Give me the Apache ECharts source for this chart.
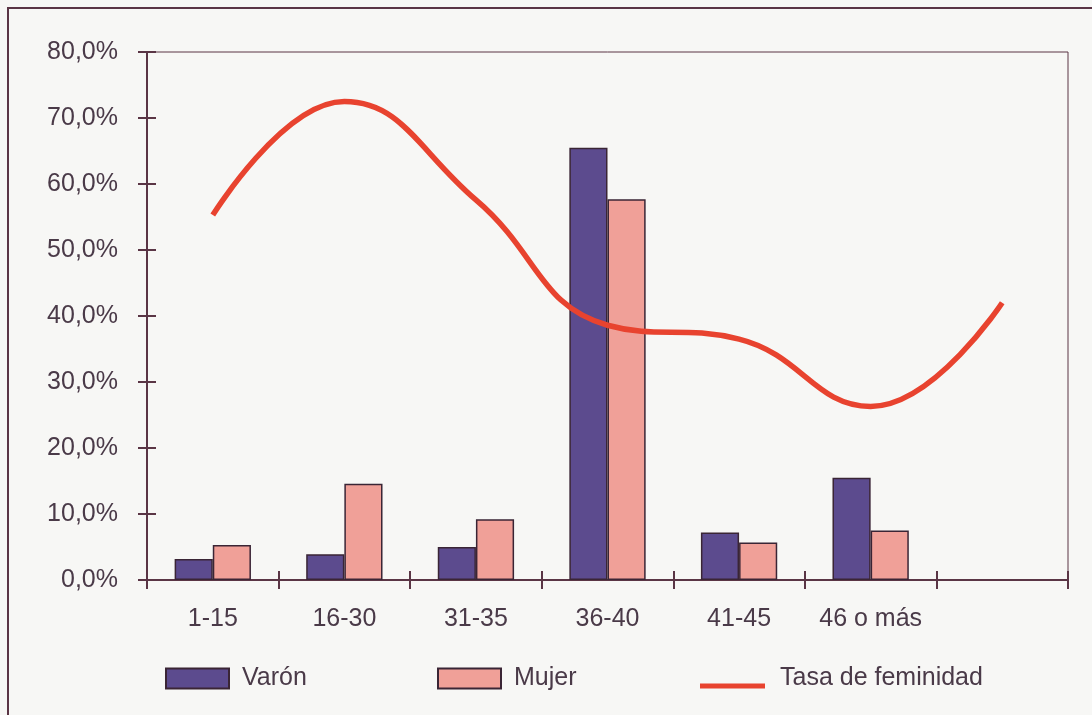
<!DOCTYPE html>
<html>
<head>
<meta charset="utf-8">
<script src="https://cdn.jsdelivr.net/npm/echarts@6/dist/echarts.min.js"></script>
<style>
html,body{margin:0;padding:0;background:#f7f7f5;}
#c{width:1092px;height:715px;}
</style>
</head>
<body>
<div id="c"></div>
<script>
const categories = ['1-15', '16-30', '31-35', '36-40', '41-45', '46 o más', ''];
const varon = [3.2, 3.9, 5.0, 65.5, 7.2, 15.5, null];
const mujer = [5.3, 14.6, 9.2, 57.7, 5.7, 7.5, null];
const tasaFeminidad = [55.3, 72.5, 57.6, 38.6, 36.5, 26.3, 42.0];
const yTicks = [0, 10, 20, 30, 40, 50, 60, 70, 80];

const axisColor = '#5a3545';
const textColor = '#4a3a48';
const font = 'Liberation Sans, Arial, sans-serif';
const fs = 25;

const chart = echarts.init(document.getElementById('c'), null, {renderer: 'canvas'});
const legendText = () => ({color: textColor, fontSize: fs, fontFamily: font, padding: [0, 0, 0, 8]});
const axLine = () => ({show: true, onZero: false, lineStyle: {color: axisColor, width: 2}});
const tick = (inside) => ({show: true, inside: inside, alignWithLabel: false, length: 9, lineStyle: {color: axisColor, width: 2}});
const gridBox = () => ({left: 147, top: 52, right: 24, bottom: 135});

chart.setOption({
  backgroundColor: '#f7f7f5',
  animation: false,
  grid: [
    Object.assign({show: true, borderColor: axisColor, borderWidth: 1, backgroundColor: 'transparent'}, gridBox()),
    Object.assign({show: false}, gridBox())
  ],
  graphic: [{
    type: 'rect', shape: {x: 8, y: 8, width: 1200, height: 800},
    style: {fill: 'none', stroke: axisColor, lineWidth: 2}, silent: true, z: -1
  }],
  legend: [
    {data: [{name: 'Varón', icon: 'rect'}], left: 165, top: 666, padding: 0, itemWidth: 63, itemHeight: 20, textStyle: legendText(), selectedMode: false},
    {data: [{name: 'Mujer', icon: 'rect'}], left: 437, top: 666, padding: 0, itemWidth: 63, itemHeight: 20, textStyle: legendText(), selectedMode: false},
    {data: [{name: 'Tasa de feminidad', icon: 'path://M0,0M0,15L65,15L65,20L0,20Z', itemStyle: {color: '#e8432f', borderWidth: 0}}],
     left: 700, top: 666, padding: 0, itemWidth: 65, itemHeight: 20,
     textStyle: {color: textColor, fontSize: fs, fontFamily: font, padding: [0, 0, 0, 10]}, selectedMode: false}
  ],
  xAxis: [{
    type: 'category', data: categories, position: 'bottom', gridIndex: 0,
    axisLine: axLine(),
    axisTick: tick(false),
    axisLabel: {color: textColor, fontSize: fs, fontFamily: font, margin: 27, interval: 0},
    splitLine: {show: false}
  }, {
    type: 'category', data: categories, position: 'bottom', gridIndex: 1,
    axisLine: axLine(),
    axisTick: tick(true),
    axisLabel: {show: false}, splitLine: {show: false}
  }],
  yAxis: [{
    type: 'value', min: yTicks[0], max: yTicks[yTicks.length - 1], interval: 10, gridIndex: 0,
    axisLine: axLine(),
    axisTick: tick(false),
    axisLabel: {color: textColor, fontSize: fs, fontFamily: font, margin: 29, formatter: v => v + ',0%'},
    splitLine: {show: false}
  }, {
    type: 'value', min: yTicks[0], max: yTicks[yTicks.length - 1], interval: 10, position: 'left', gridIndex: 1,
    axisLine: axLine(),
    axisTick: tick(true),
    axisLabel: {show: false}, splitLine: {show: false}
  }],
  series: [{
    name: 'Varón', type: 'bar', data: varon, barGap: '0%', barCategoryGap: '42%',
    itemStyle: {color: '#5c4b8e', borderColor: '#3a2535', borderWidth: 1.5}
  }, {
    name: 'Mujer', type: 'bar', data: mujer, barGap: '0%', barCategoryGap: '42%',
    itemStyle: {color: '#f0a098', borderColor: '#3a2535', borderWidth: 1.5}
  }, {
    name: 'Tasa de feminidad', type: 'line', data: tasaFeminidad, smooth: 0.45,
    symbol: 'none', lineStyle: {color: '#e8432f', width: 5.5}, itemStyle: {color: '#e8432f'}, z: 5
  }, {
    name: 'ticksHelper', type: 'line', xAxisIndex: 1, yAxisIndex: 1, data: tasaFeminidad, silent: true,
    symbol: 'none', lineStyle: {opacity: 0}, itemStyle: {opacity: 0}, tooltip: {show: false}
  }]
});
</script>
</body>
</html>
